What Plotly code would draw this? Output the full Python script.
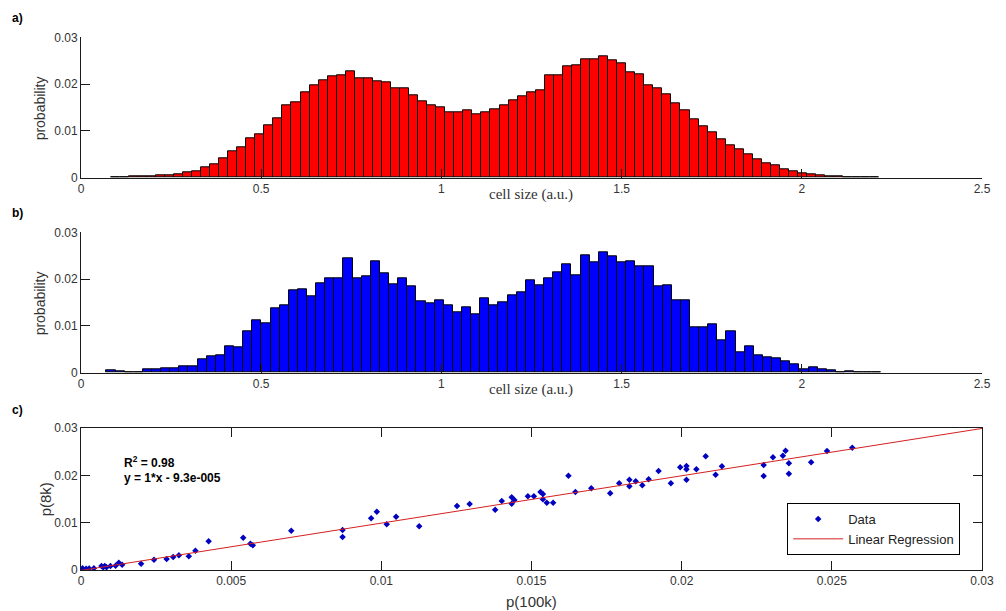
import numpy as np
import plotly.graph_objects as go

# ---------------- data ----------------
# panel a: histogram of cell sizes, 100k cells (probability per bin)
RED_BIN_START = 0.082
RED_BIN_WIDTH = 0.0251
P_RED = [0.0001, 0.00015, 0.0002, 0.0003, 0.0004, 0.0005, 0.0006, 0.0008, 0.0011, 0.0014,
         0.0023, 0.0029, 0.0042, 0.0056, 0.0066, 0.0084, 0.0093, 0.0111, 0.0126, 0.0155,
         0.0161, 0.0182, 0.0198, 0.0209, 0.0216, 0.0219, 0.0228, 0.0213, 0.0212, 0.0205,
         0.0203, 0.0190, 0.0190, 0.0176, 0.0164, 0.0154, 0.0151, 0.0140, 0.0140, 0.0144,
         0.0136, 0.0140, 0.0146, 0.0154, 0.0166, 0.0174, 0.0182, 0.0186, 0.0219, 0.0219,
         0.0237, 0.0240, 0.0254, 0.0252, 0.0259, 0.0251, 0.0244, 0.0226, 0.0221, 0.0198,
         0.0190, 0.0178, 0.0159, 0.0144, 0.0124, 0.0109, 0.0097, 0.0083, 0.0070, 0.0060,
         0.0049, 0.0039, 0.0031, 0.0026, 0.0018, 0.0013, 0.0010, 0.0008, 0.0006, 0.0004,
         0.0002, 0.00015, 0.0001, 0.0001, 0.0001]

# panel b: histogram of cell sizes, 8k cells
BLUE_BIN_START = 0.0705
BLUE_BIN_WIDTH = 0.0253
P_BLUE = [0.0005, 0.0003, 0.0001, 0.0001, 0.0007, 0.0007, 0.0009, 0.0009, 0.0013, 0.0013,
          0.0028, 0.0036, 0.0038, 0.0057, 0.0054, 0.0088, 0.0113, 0.0105, 0.0138, 0.0144,
          0.0177, 0.0179, 0.0164, 0.0191, 0.0201, 0.0201, 0.0244, 0.0201, 0.0206, 0.0237,
          0.0212, 0.0189, 0.0201, 0.0184, 0.0152, 0.0148, 0.0154, 0.0144, 0.0129, 0.0140,
          0.0125, 0.0159, 0.0144, 0.0151, 0.0165, 0.0171, 0.0198, 0.0186, 0.0201, 0.0214,
          0.0231, 0.0208, 0.0250, 0.0235, 0.0258, 0.0249, 0.0235, 0.0237, 0.0227, 0.0227,
          0.0184, 0.0187, 0.0154, 0.0154, 0.0098, 0.0096, 0.0103, 0.0069, 0.0089, 0.0043,
          0.0057, 0.0038, 0.0033, 0.0030, 0.0024, 0.0019, 0.0007, 0.0011, 0.0007, 0.0006,
          0.0001, 0.0004, 0.00005, 0.0001, 0.00005]

# panel c: per-bin probabilities, p(100k) vs p(8k)
P_100K = [0.00005, 0.00017, 0.00027, 0.00043, 0.00068, 0.00074, 0.00079, 0.00085, 0.00098, 0.00115,
          0.00126, 0.00137, 0.0020, 0.00243, 0.00285, 0.00307, 0.00326, 0.00359, 0.00381, 0.00425,
          0.0054, 0.00564, 0.00572, 0.0070,
          0.00871, 0.00871, 0.00966, 0.00985, 0.01018, 0.01049, 0.01126, 0.01252, 0.01294, 0.01379,
          0.01401, 0.01434, 0.01434, 0.01443, 0.01488, 0.01508, 0.0153, 0.01538, 0.01538, 0.01551,
          0.01572, 0.01623, 0.01646, 0.01699, 0.01762, 0.01792, 0.01826, 0.01826, 0.01847, 0.01869,
          0.0189, 0.01923, 0.01964, 0.01995, 0.02016, 0.02016, 0.02016, 0.02049,
          0.0208, 0.02113, 0.02134, 0.02273, 0.02273, 0.02304, 0.02337, 0.02346, 0.02357, 0.02357,
          0.02431, 0.02484, 0.02568]
P_8K = [0.00035, 0.00028, 0.0003, 0.00035, 0.00085, 0.00056, 0.00085, 0.00056, 0.00085, 0.00092,
        0.00155, 0.00113, 0.00134, 0.00218, 0.00232, 0.00275, 0.0031, 0.00289, 0.00408, 0.00606,
        0.00683, 0.00556, 0.00521, 0.0083,
        0.00845, 0.00697, 0.01092, 0.01233, 0.00965, 0.01127, 0.00923, 0.01352, 0.01394, 0.01275,
        0.01458, 0.01536, 0.01401, 0.01479, 0.01557, 0.01557, 0.01648, 0.01606, 0.01494, 0.01423,
        0.01423, 0.01993, 0.01648, 0.01726, 0.0162, 0.01831, 0.01909, 0.01768, 0.01874, 0.0179,
        0.01916, 0.02092, 0.01831, 0.0217, 0.02197, 0.02127, 0.01909, 0.02127,
        0.02402, 0.02014, 0.02191, 0.02218, 0.01986, 0.0238, 0.02416, 0.02521, 0.02254, 0.02035,
        0.02275, 0.02514, 0.02585]

REG_SLOPE = 1.0
REG_INTERCEPT = -9.3e-5
REG_X = [0.0, 0.03]

HIST_XTICKS = [0, 0.5, 1, 1.5, 2, 2.5]
HIST_XTICKTEXT = ["0", "0.5", "1", "1.5", "2", "2.5"]
PROB_TICKS = [0, 0.01, 0.02, 0.03]
PROB_TICKTEXT = ["0", "0.01", "0.02", "0.03"]
SC_XTICKS = [0, 0.005, 0.01, 0.015, 0.02, 0.025, 0.03]
SC_XTICKTEXT = ["0", "0.005", "0.01", "0.015", "0.02", "0.025", "0.03"]

assert len(P_100K) == len(P_8K)

# ---------------- figure ----------------
W, H = 1006, 611
ML, MR, MT, MB = 81, 16, 37, 41
PW, PH = W - ML - MR, H - MT - MB


def py(pix):  # pixel row -> paper y
    return (H - MB - pix) / PH


def px(pix):  # pixel column -> paper x
    return (pix - ML) / PW


SANS = "Liberation Sans, Arial, sans-serif"
SERIF = "Liberation Serif, Times New Roman, serif"
AX = "#1a1a1a"
TXT = "#333333"

red_centers = RED_BIN_START + (np.arange(len(P_RED)) + 0.5) * RED_BIN_WIDTH
blue_centers = BLUE_BIN_START + (np.arange(len(P_BLUE)) + 0.5) * BLUE_BIN_WIDTH

fig = go.Figure()
fig.add_trace(go.Bar(x=red_centers, y=P_RED, width=RED_BIN_WIDTH,
                     marker=dict(color="#ff0000", line=dict(color="#000000", width=1)),
                     showlegend=False, xaxis="x", yaxis="y"))
fig.add_trace(go.Bar(x=blue_centers, y=P_BLUE, width=BLUE_BIN_WIDTH,
                     marker=dict(color="#0000ff", line=dict(color="#000000", width=1)),
                     showlegend=False, xaxis="x2", yaxis="y2"))

reg_y = [REG_SLOPE * v + REG_INTERCEPT for v in REG_X]
fig.add_trace(go.Scatter(x=P_100K, y=P_8K, mode="markers", name="Data",
                         marker=dict(symbol="diamond", size=5, color="#0000c0"),
                         xaxis="x3", yaxis="y3"))
fig.add_trace(go.Scatter(x=REG_X, y=reg_y, mode="lines", name="Linear Regression",
                         line=dict(color="#d42020", width=1),
                         xaxis="x3", yaxis="y3"))

tickfont = dict(family=SANS, size=12, color=TXT)


def hist_x(anchor):
    return dict(domain=[0, 1], anchor=anchor, range=[0, 2.5], tickmode="array",
                tickvals=HIST_XTICKS, ticktext=HIST_XTICKTEXT, ticks="inside", ticklen=9,
                tickcolor=AX, showline=True, linecolor=AX, linewidth=1, showgrid=False,
                zeroline=False, tickfont=tickfont, fixedrange=True)


def prob_y(anchor, dom, mirror=False):
    return dict(domain=dom, anchor=anchor, range=[0, 0.03], tickmode="array",
                tickvals=PROB_TICKS, ticktext=PROB_TICKTEXT, ticks="inside", ticklen=9,
                tickcolor=AX, showline=True, linecolor=AX, linewidth=1, showgrid=False,
                zeroline=False, tickfont=tickfont, mirror="ticks" if mirror else False)


dom_a = [py(177.7), py(37.3)]
dom_b = [py(372.7), py(232.3)]
dom_c = [0, py(428)]

fig.update_layout(
    width=W, height=H,
    margin=dict(l=ML, r=MR, t=MT, b=MB),
    paper_bgcolor="white", plot_bgcolor="white",
    bargap=0,
    xaxis=hist_x("y"),
    yaxis=prob_y("x", dom_a),
    xaxis2=hist_x("y2"),
    yaxis2=prob_y("x2", dom_b),
    xaxis3=dict(domain=[0, 1], anchor="y3", range=[0, 0.03], tickmode="array",
                tickvals=SC_XTICKS, ticktext=SC_XTICKTEXT, ticks="inside", ticklen=9,
                tickcolor=AX, showline=True, linecolor=AX, linewidth=1, showgrid=False,
                zeroline=False, tickfont=tickfont, mirror="ticks"),
    yaxis3=prob_y("x3", dom_c, mirror=True),
    showlegend=True,
    legend=dict(x=px(968), y=py(503), xanchor="right", yanchor="top",
                bgcolor="white", bordercolor="#000000", borderwidth=1,
                font=dict(family=SANS, size=13, color="#222222"),
                tracegroupgap=0, itemwidth=50),
    font=dict(family=SANS, size=12, color=TXT),
)

annots = []
# panel labels
for lbl, ypix in [("a)", 18), ("b)", 213), ("c)", 410)]:
    annots.append(dict(text="<b>%s</b>" % lbl, x=px(17), y=py(ypix), xref="paper", yref="paper",
                       showarrow=False, xanchor="center", yanchor="middle",
                       font=dict(family=SANS, size=12, color="#000000")))
# y titles
for txt, xpix, ypix, fs in [("probability", 40, 108, 14), ("probability", 40, 303, 14),
                            ("p(8k)", 45, 499, 15)]:
    annots.append(dict(text=txt, x=px(xpix), y=py(ypix), xref="paper", yref="paper",
                       showarrow=False, textangle=-90, xanchor="center", yanchor="middle",
                       font=dict(family=SANS, size=fs, color=TXT)))
# x titles
for ypix in [194, 389]:
    annots.append(dict(text="cell size (a.u.)", x=px(535), y=py(ypix), xref="paper", yref="paper",
                       showarrow=False, xanchor="center", yanchor="middle",
                       font=dict(family=SERIF, size=15, color=TXT)))
annots.append(dict(text="p(100k)", x=px(535), y=py(601), xref="paper", yref="paper",
                   showarrow=False, xanchor="center", yanchor="middle",
                   font=dict(family=SANS, size=15, color=TXT)))
# regression text
annots.append(dict(text="<b>R<sup>2</sup> = 0.98</b>", x=0.00138, y=0.0229, xref="x3", yref="y3",
                   showarrow=False, xanchor="left", yanchor="middle",
                   font=dict(family=SANS, size=12, color="#000000")))
annots.append(dict(text="<b>y = 1*x - 9.3e-005</b>", x=0.00138, y=0.0194, xref="x3", yref="y3",
                   showarrow=False, xanchor="left", yanchor="middle",
                   font=dict(family=SANS, size=12, color="#000000")))
fig.update_layout(annotations=annots)

fig.write_html("out.html")
